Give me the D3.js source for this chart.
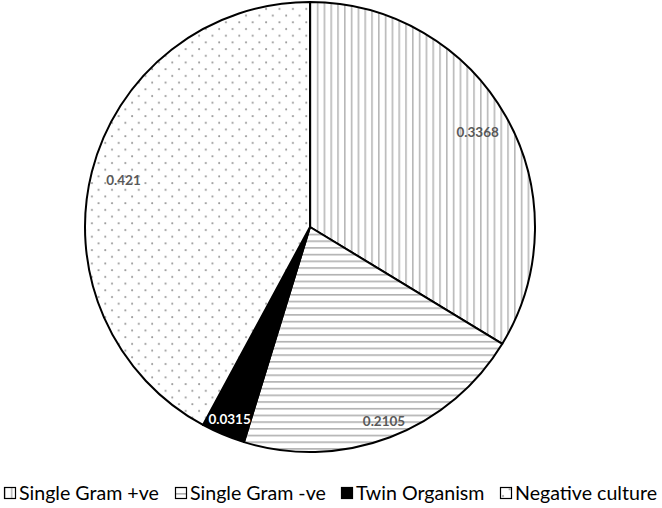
<!DOCTYPE html>
<html><head><meta charset="utf-8">
<script src="https://cdn.jsdelivr.net/npm/d3@7"></script>
<style>body{margin:0;background:#fff}svg{display:block}</style>
</head><body>
<svg id="c" width="662" height="508"></svg>
<script>
const categories = ["Single Gram +ve", "Single Gram -ve", "Twin Organism", "Negative culture"];
const values = [0.3368, 0.2105, 0.0315, 0.421];
const labels = ["0.3368", "0.2105", "0.0315", "0.421"];
const patterns = ["vlines", "hlines", "solid", "dots"];

const svg = d3.select("#c");
const defs = svg.append("defs");
const pv = defs.append("pattern").attr("id","vlines").attr("patternUnits","userSpaceOnUse").attr("width",6.8).attr("height",10);
pv.append("rect").attr("width",6.8).attr("height",10).attr("fill","#fff");
pv.append("rect").attr("x",0).attr("width",1.6).attr("height",10).attr("fill","#b8b8b8");
const ph = defs.append("pattern").attr("id","hlines").attr("patternUnits","userSpaceOnUse").attr("width",10).attr("height",6.7);
ph.append("rect").attr("width",10).attr("height",6.7).attr("fill","#fff");
ph.append("rect").attr("y",0).attr("height",1.6).attr("width",10).attr("fill","#b0b0b0");
const pd = defs.append("pattern").attr("id","dots").attr("patternUnits","userSpaceOnUse").attr("width",13.4).attr("height",13.4);
pd.append("rect").attr("width",13.4).attr("height",13.4).attr("fill","#fff");
pd.append("circle").attr("cx",3).attr("cy",3).attr("r",1).attr("fill","#9a9a9a");
pd.append("circle").attr("cx",9.7).attr("cy",9.7).attr("r",1).attr("fill","#9a9a9a");
const fillFor = p => p === "solid" ? "#000" : `url(#${p})`;

const cx = 310, cy = 227, r = 225;
const pie = d3.pie().sort(null).value(d => d)(values);
const arc = d3.arc().innerRadius(0).outerRadius(r);
const g = svg.append("g").attr("transform", `translate(${cx},${cy})`);
g.selectAll("path").data(pie).join("path")
  .attr("d", arc).attr("fill", (d,i) => fillFor(patterns[i]))
  .attr("stroke", "#000").attr("stroke-width", 2).attr("stroke-linejoin","round");

g.selectAll("text").data(pie).join("text")
  .attr("transform", d => {
    const lr = d.value < 0.25 ? r*0.925 : r*0.855;
    const a = d3.arc().innerRadius(lr).outerRadius(lr);
    const [x,y] = a.centroid(d);
    return `translate(${x},${y})`;
  })
  .attr("text-anchor","middle").attr("dy","0.35em")
  .attr("font-family","Lato, 'Open Sans', sans-serif")
  .attr("font-weight","bold").attr("font-size",13.5)
  .attr("fill", (d,i) => patterns[i] === "solid" ? "#fff" : "#595959")
  .text((d,i) => labels[i]);

const legX = [4, 175, 341, 500];
const lg = svg.append("g").attr("transform","translate(0,493)");
const items = lg.selectAll("g").data(categories).join("g").attr("transform",(d,i)=>`translate(${legX[i]},0)`);
items.append("rect").attr("x",0.5).attr("y",-5.5).attr("width",11).attr("height",11)
  .attr("fill",(d,i)=>fillFor(patterns[i])).attr("stroke","#000").attr("stroke-width",1.2);
items.append("text").attr("x",15).attr("y",0).attr("dy","0.36em")
  .attr("font-family","Lato, 'Open Sans', sans-serif").attr("font-size",19.6)
  .attr("fill","#000").text(d=>d);
</script>
</body></html>
